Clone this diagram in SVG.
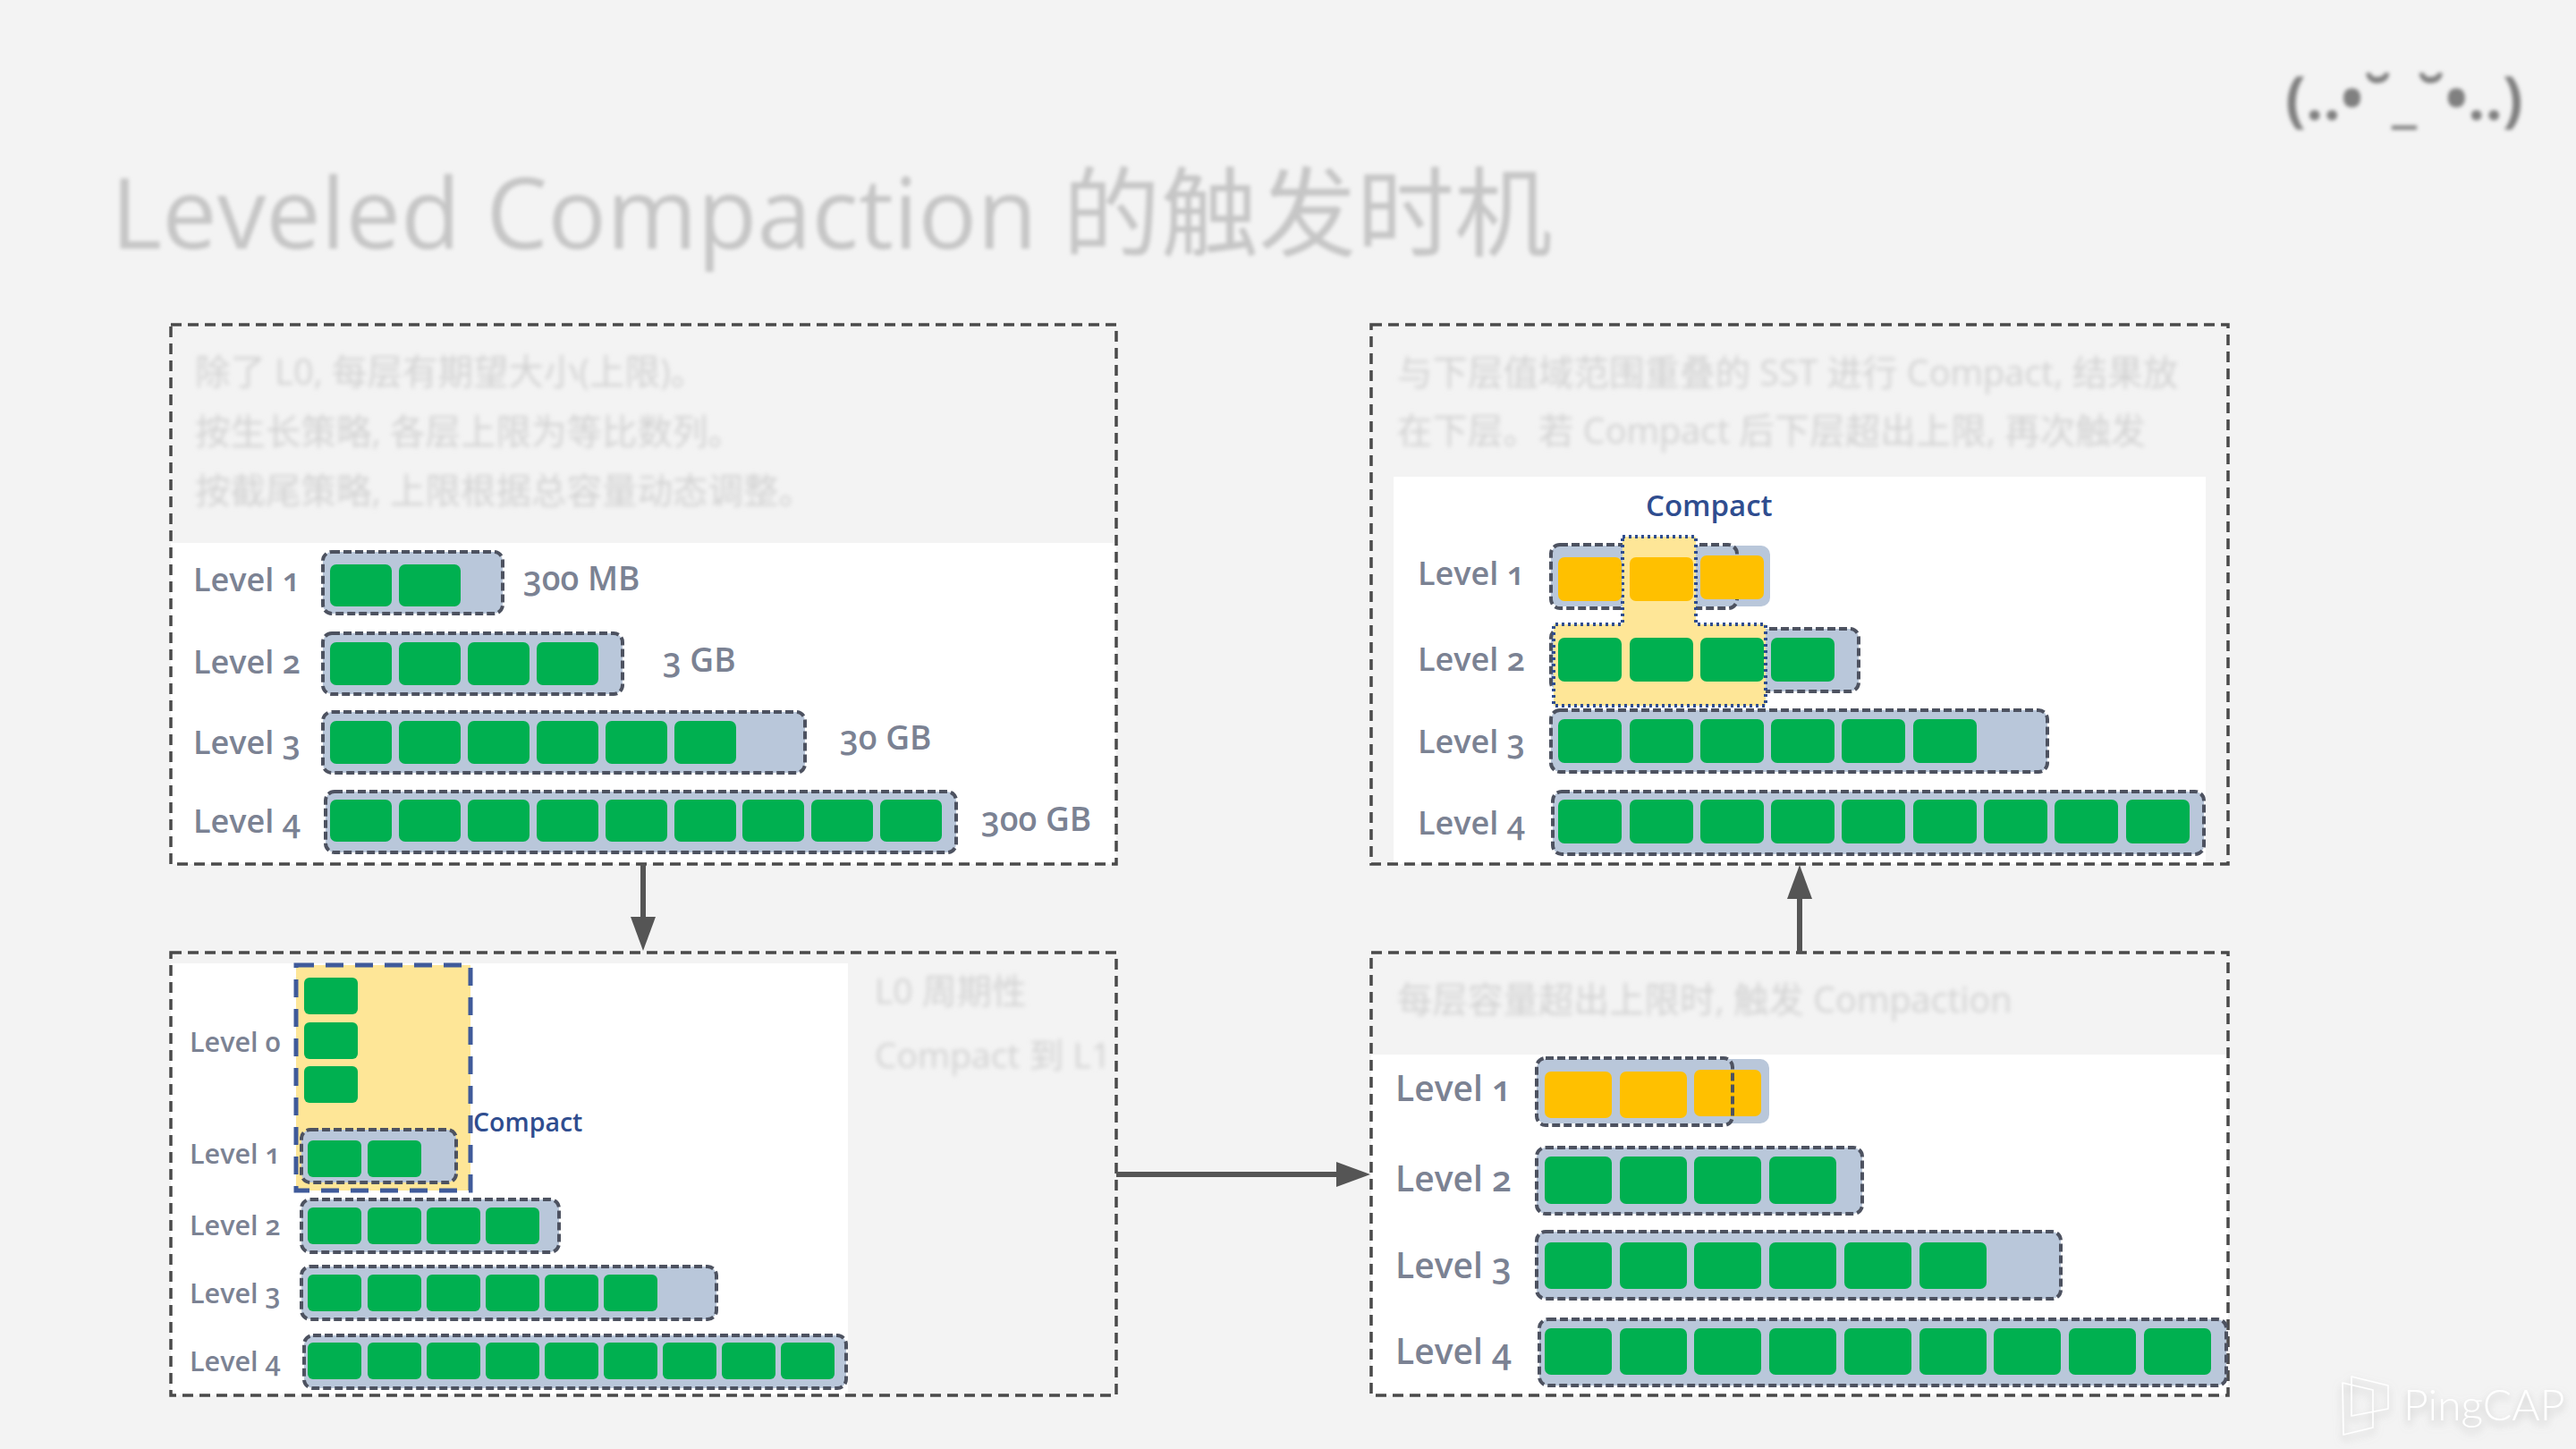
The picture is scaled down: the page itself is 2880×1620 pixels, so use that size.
<svg xmlns="http://www.w3.org/2000/svg" width="2880" height="1620" viewBox="0 0 2880 1620">
<defs>
<style>
text{font-family:"Open Sans","Noto Sans CJK SC",sans-serif}
.panel{fill:none;stroke:#4a4a4a;stroke-width:3.5;stroke-dasharray:12 7}
.white{fill:#fff}
.bar{fill:#b9c7da}
.barline{fill:#b9c7da;stroke:#4d5260;stroke-width:4;stroke-dasharray:9 4}
.outline{fill:none;stroke:#4d5260;stroke-width:4;stroke-dasharray:9 4}
.g{fill:#00b050}
.o{fill:#ffc000}
.lab{fill:#7b8293;font-weight:600;font-feature-settings:"onum";font-variant-numeric:oldstyle-nums}
.cmp{fill:#2f4d8f;font-weight:600}
.blur{fill:#d2d2d2;font-size:39.5px;filter:url(#b3)}
.title{fill:#c6c6c6;font-size:109.5px;font-weight:400;filter:url(#b2)}
.zone{fill:#fee697;stroke:#3f5a9a;stroke-width:5;stroke-dasharray:20 13}
.zone2{fill:#fee697;stroke:#2f4d8f;stroke-width:4;stroke-dasharray:3 4}
.conn{fill:none;stroke:#555;stroke-width:6}
.head{fill:#555}
</style>
<filter id="b3" x="-5%" y="-50%" width="110%" height="200%"><feGaussianBlur stdDeviation="2.6"/></filter>
<filter id="b2" x="-5%" y="-20%" width="110%" height="140%"><feGaussianBlur stdDeviation="2.2"/></filter>
<filter id="logo" x="-20%" y="-30%" width="140%" height="170%"><feDropShadow dx="0" dy="5" stdDeviation="5" flood-color="#999" flood-opacity=".6"/></filter>
</defs>
<rect width="2880" height="1620" fill="#f3f3f3"/>
<text id="title" class="title" x="124" y="278">Leveled Compaction 的触发时机</text>
<g id="kaomoji"><text x="2555" y="134" font-size="68" font-weight="700" fill="#808080" filter="url(#b2)">(..•˘_˘•..)</text></g>

<g id="panel-top-left">
<rect class="white" x="191" y="607" width="1057" height="359"/>
<rect class="panel" x="191" y="363" width="1057" height="603"/>
<text class="blur" x="218" y="430">除了 L0, 每层有期望大小(上限)。</text>
<text class="blur" x="218" y="497">按生长策略, 各层上限为等比数列。</text>
<text class="blur" x="218" y="563">按截尾策略, 上限根据总容量动态调整。</text>
<g font-size="36">
<text class="lab" x="216" y="661">Level 1</text><text class="lab" x="216" y="753">Level 2</text><text class="lab" x="216" y="843">Level 3</text><text class="lab" x="216" y="931">Level 4</text>
</g>
<g font-size="37">
<text class="lab" x="585" y="660">300 MB</text><text class="lab" x="741" y="751">3 GB</text><text class="lab" x="939" y="838">30 GB</text><text class="lab" x="1097" y="929">300 GB</text>
</g>
<rect class="barline" x="361" y="617" width="201" height="69" rx="10"/>
<rect class="barline" x="361" y="708" width="335" height="68" rx="10"/>
<rect class="barline" x="361" y="796" width="539" height="68" rx="10"/>
<rect class="barline" x="364" y="885" width="705" height="68" rx="10"/>
<g class="g">
<rect x="369" y="631" width="69" height="47" rx="7"/><rect x="446" y="631" width="69" height="47" rx="7"/>
<rect x="369" y="718" width="69" height="48" rx="7"/><rect x="446" y="718" width="69" height="48" rx="7"/><rect x="523" y="718" width="69" height="48" rx="7"/><rect x="600" y="718" width="69" height="48" rx="7"/>
<rect x="369" y="806" width="69" height="48" rx="7"/><rect x="446" y="806" width="69" height="48" rx="7"/><rect x="523" y="806" width="69" height="48" rx="7"/><rect x="600" y="806" width="69" height="48" rx="7"/><rect x="677" y="806" width="69" height="48" rx="7"/><rect x="754" y="806" width="69" height="48" rx="7"/>
<rect x="369" y="894" width="69" height="47" rx="7"/><rect x="446" y="894" width="69" height="47" rx="7"/><rect x="523" y="894" width="69" height="47" rx="7"/><rect x="600" y="894" width="69" height="47" rx="7"/><rect x="677" y="894" width="69" height="47" rx="7"/><rect x="754" y="894" width="69" height="47" rx="7"/><rect x="830" y="894" width="69" height="47" rx="7"/><rect x="907" y="894" width="69" height="47" rx="7"/><rect x="984" y="894" width="69" height="47" rx="7"/>
</g>
</g>

<g id="panel-bottom-left">
<rect class="white" x="191" y="1077" width="757" height="483"/>
<rect class="panel" x="191" y="1065" width="1057" height="495"/>
<text class="blur" x="978" y="1122" style="font-size:39px">L0 周期性</text>
<text class="blur" x="978" y="1194" style="font-size:39px">Compact 到 L1</text>
<rect class="zone" x="331" y="1079" width="195" height="252"/>
<text class="cmp" x="529" y="1265" font-size="28.5">Compact</text>
<g font-size="30.5">
<text class="lab" x="212" y="1176">Level 0</text><text class="lab" x="212" y="1301">Level 1</text><text class="lab" x="212" y="1381">Level 2</text><text class="lab" x="212" y="1457">Level 3</text><text class="lab" x="212" y="1533">Level 4</text>
</g>
<rect class="barline" x="337" y="1263" width="173" height="59" rx="10"/>
<rect class="barline" x="337" y="1341" width="288" height="59" rx="10"/>
<rect class="barline" x="337" y="1416" width="464" height="59" rx="10"/>
<rect class="barline" x="340" y="1493" width="606" height="59" rx="10"/>
<g class="g">
<rect x="340" y="1093" width="60" height="41" rx="6"/><rect x="340" y="1143" width="60" height="41" rx="6"/><rect x="340" y="1192" width="60" height="41" rx="6"/>
<rect x="344" y="1275" width="60" height="41" rx="6"/><rect x="411" y="1275" width="60" height="41" rx="6"/>
<rect x="344" y="1350" width="60" height="41" rx="6"/><rect x="411" y="1350" width="60" height="41" rx="6"/><rect x="477" y="1350" width="60" height="41" rx="6"/><rect x="543" y="1350" width="60" height="41" rx="6"/>
<rect x="344" y="1425" width="60" height="41" rx="6"/><rect x="411" y="1425" width="60" height="41" rx="6"/><rect x="477" y="1425" width="60" height="41" rx="6"/><rect x="543" y="1425" width="60" height="41" rx="6"/><rect x="609" y="1425" width="60" height="41" rx="6"/><rect x="675" y="1425" width="60" height="41" rx="6"/>
<rect x="344" y="1501" width="60" height="41" rx="6"/><rect x="411" y="1501" width="60" height="41" rx="6"/><rect x="477" y="1501" width="60" height="41" rx="6"/><rect x="543" y="1501" width="60" height="41" rx="6"/><rect x="609" y="1501" width="60" height="41" rx="6"/><rect x="675" y="1501" width="60" height="41" rx="6"/><rect x="741" y="1501" width="60" height="41" rx="6"/><rect x="807" y="1501" width="60" height="41" rx="6"/><rect x="873" y="1501" width="60" height="41" rx="6"/>
</g>
</g>

<g id="panel-top-right">
<rect class="white" x="1558" y="533" width="908" height="433"/>
<rect class="panel" x="1533" y="363" width="958" height="603"/>
<text class="blur" x="1562" y="431">与下层值域范围重叠的 SST 进行 Compact, 结果放</text>
<text class="blur" x="1562" y="496">在下层。若 Compact 后下层超出上限, 再次触发</text>
<text class="cmp" x="1840" y="577" font-size="33">Compact</text>
<g font-size="36">
<text class="lab" x="1585" y="654">Level 1</text><text class="lab" x="1585" y="750">Level 2</text><text class="lab" x="1585" y="842">Level 3</text><text class="lab" x="1585" y="933">Level 4</text>
</g>
<rect class="bar" x="1734" y="610" width="245" height="68" rx="10"/>
<rect class="outline" x="1734" y="609" width="208" height="71" rx="10"/>
<rect class="barline" x="1734" y="703" width="344" height="70" rx="10"/>
<rect class="barline" x="1734" y="794" width="555" height="69" rx="10"/>
<rect class="barline" x="1736" y="885" width="728" height="70" rx="10"/>
<path class="zone2" d="M1814 600H1896V698H1974V789H1737V698H1814Z"/>
<g class="o"><rect x="1742" y="623" width="71" height="49" rx="7"/><rect x="1822" y="623" width="71" height="49" rx="7"/><rect x="1901" y="621" width="71" height="49" rx="7"/></g>
<g class="g">
<rect x="1742" y="713" width="71" height="49" rx="7"/><rect x="1822" y="713" width="71" height="49" rx="7"/><rect x="1901" y="713" width="71" height="49" rx="7"/><rect x="1980" y="713" width="71" height="49" rx="7"/>
<rect x="1742" y="804" width="71" height="49" rx="7"/><rect x="1822" y="804" width="71" height="49" rx="7"/><rect x="1901" y="804" width="71" height="49" rx="7"/><rect x="1980" y="804" width="71" height="49" rx="7"/><rect x="2059" y="804" width="71" height="49" rx="7"/><rect x="2139" y="804" width="71" height="49" rx="7"/>
<rect x="1742" y="894" width="71" height="49" rx="7"/><rect x="1822" y="894" width="71" height="49" rx="7"/><rect x="1901" y="894" width="71" height="49" rx="7"/><rect x="1980" y="894" width="71" height="49" rx="7"/><rect x="2059" y="894" width="71" height="49" rx="7"/><rect x="2139" y="894" width="71" height="49" rx="7"/><rect x="2218" y="894" width="71" height="49" rx="7"/><rect x="2297" y="894" width="71" height="49" rx="7"/><rect x="2377" y="894" width="71" height="49" rx="7"/>
</g>
</g>

<g id="panel-bottom-right">
<rect class="white" x="1533" y="1179" width="958" height="381"/>
<rect class="panel" x="1533" y="1065" width="958" height="495"/>
<text class="blur" x="1562" y="1132">每层容量超出上限时, 触发 Compaction</text>
<g font-size="39">
<text class="lab" x="1560" y="1231">Level 1</text><text class="lab" x="1560" y="1332">Level 2</text><text class="lab" x="1560" y="1429">Level 3</text><text class="lab" x="1560" y="1525">Level 4</text>
</g>
<rect class="bar" x="1718" y="1184" width="260" height="72" rx="10"/>
<rect class="barline" x="1718" y="1283" width="364" height="74" rx="10"/>
<rect class="barline" x="1718" y="1377" width="586" height="75" rx="10"/>
<rect class="barline" x="1721" y="1475" width="768" height="74" rx="10"/>
<g class="o"><rect x="1727" y="1198" width="75" height="52" rx="7"/><rect x="1811" y="1198" width="75" height="52" rx="7"/><rect x="1894" y="1196" width="75" height="52" rx="7"/></g>
<g class="g">
<rect x="1727" y="1293" width="75" height="53" rx="7"/><rect x="1811" y="1293" width="75" height="53" rx="7"/><rect x="1894" y="1293" width="75" height="53" rx="7"/><rect x="1978" y="1293" width="75" height="53" rx="7"/>
<rect x="1727" y="1389" width="75" height="52" rx="7"/><rect x="1811" y="1389" width="75" height="52" rx="7"/><rect x="1894" y="1389" width="75" height="52" rx="7"/><rect x="1978" y="1389" width="75" height="52" rx="7"/><rect x="2062" y="1389" width="75" height="52" rx="7"/><rect x="2146" y="1389" width="75" height="52" rx="7"/>
<rect x="1727" y="1485" width="75" height="52" rx="7"/><rect x="1811" y="1485" width="75" height="52" rx="7"/><rect x="1894" y="1485" width="75" height="52" rx="7"/><rect x="1978" y="1485" width="75" height="52" rx="7"/><rect x="2062" y="1485" width="75" height="52" rx="7"/><rect x="2146" y="1485" width="75" height="52" rx="7"/><rect x="2229" y="1485" width="75" height="52" rx="7"/><rect x="2313" y="1485" width="75" height="52" rx="7"/><rect x="2397" y="1485" width="75" height="52" rx="7"/>
</g>
<rect class="outline" x="1718" y="1183" width="219" height="75" rx="10"/>
</g>

<g id="connectors">
<path class="conn" d="M719 966V1030"/><path class="head" d="M705 1025H733L719 1063Z"/>
<path class="conn" d="M1248 1313H1500"/><path class="head" d="M1494 1299V1327L1532 1313Z"/>
<path class="conn" d="M2012 1065V1000"/><path class="head" d="M1998 1005H2026L2012 967Z"/>
</g>

<g id="logo-mark" filter="url(#logo)">
<path d="M2619 1546L2653 1554V1596L2620 1604ZM2629 1539L2670 1549V1575L2629 1583Z" fill="none" stroke="#fff" stroke-width="1.6" stroke-linejoin="round"/>
<text x="2687" y="1588" font-size="48" fill="#fff" style="font-family:Lato,sans-serif;font-weight:300">PingCAP</text>
</g>
</svg>
